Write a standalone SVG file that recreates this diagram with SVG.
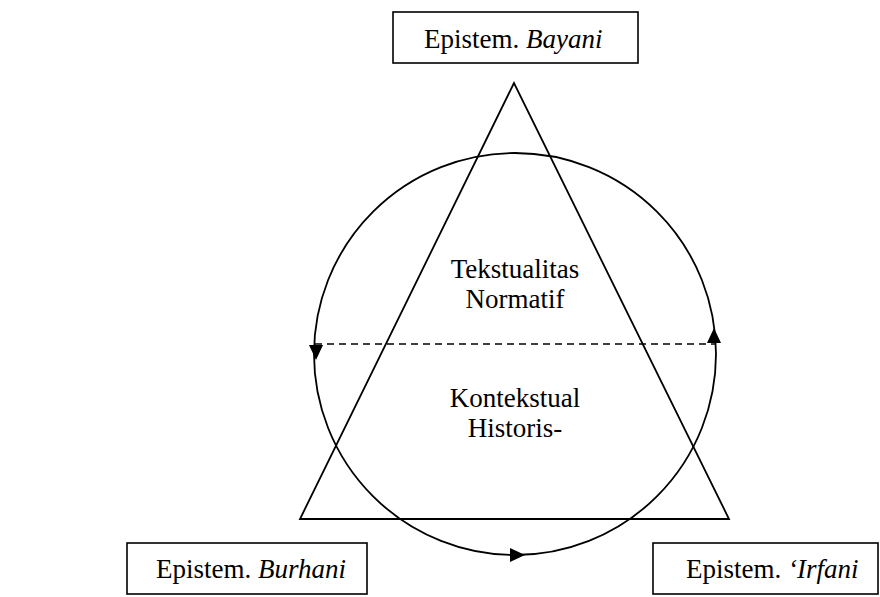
<svg xmlns="http://www.w3.org/2000/svg" width="880" height="597" viewBox="0 0 880 597">
<style>
.box{fill:#fff;stroke:#000;stroke-width:1.6}
.shape{fill:none;stroke:#000;stroke-width:1.8}
.dash{fill:none;stroke:#000;stroke-width:1.6;stroke-dasharray:7 5}
text{font-family:"Liberation Serif","Times New Roman",serif;font-size:27px;fill:#000}
.c{text-anchor:middle}
.i{font-style:italic}
</style>
<defs>
<path id="ah" d="M0,0 L-15,-7 L-15,7 Z" fill="#000"/>
</defs>
<rect width="880" height="597" fill="#fff"/>
<g id="connectors">
<polygon id="triangle" class="shape" points="514,83 300,519 729,519"/>
<circle id="cycle" class="shape" cx="515" cy="354" r="201"/>
<line id="divider" class="dash" x1="315" y1="344" x2="715" y2="344"/>
<use href="#ah" transform="translate(316,360) rotate(90)"/>
<use href="#ah" transform="translate(714,328) rotate(-90)"/>
<use href="#ah" transform="translate(525,555)"/>
</g>
<g id="bayani">
<rect class="box" x="393" y="12" width="245" height="51"/>
<text x="424" y="48">Epistem. <tspan class="i">Bayani</tspan></text>
</g>
<g id="burhani">
<rect class="box" x="127" y="543" width="240" height="51"/>
<text x="156" y="578">Epistem. <tspan class="i">Burhani</tspan></text>
</g>
<g id="irfani">
<rect class="box" x="653" y="543" width="225" height="51"/>
<text x="686" y="578">Epistem. <tspan class="i">‘Irfani</tspan></text>
</g>
<g id="tekstualitas">
<text class="c" x="515" y="278">Tekstualitas</text>
<text class="c" x="515" y="308">Normatif</text>
</g>
<g id="kontekstual">
<text class="c" x="515" y="407">Kontekstual</text>
<text class="c" x="515" y="437">Historis-</text>
</g>
</svg>
